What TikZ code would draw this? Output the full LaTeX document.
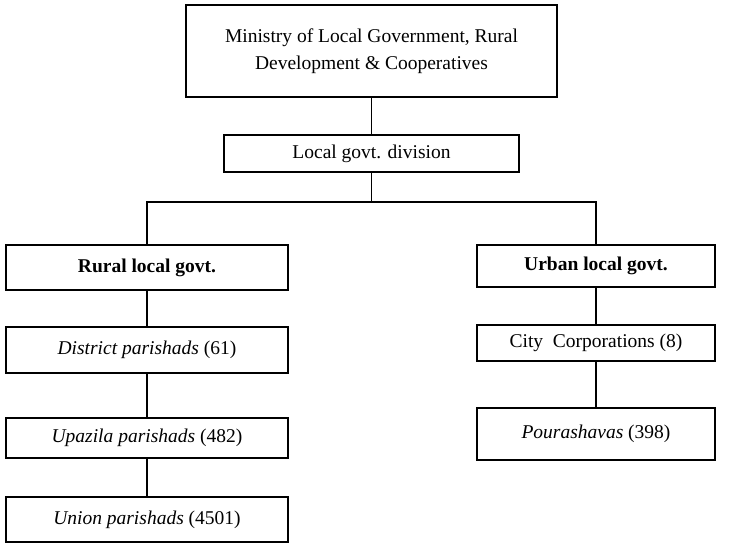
\documentclass[tikz,border=0pt]{standalone}
\usepackage{fontspec}
\setmainfont{Liberation Serif}
\begin{document}
\begin{tikzpicture}[x=1pt, y=-1pt,
        box/.style={draw, line width=1.7pt, inner sep=0pt, align=center,
            font=\fontsize{19.5}{27}\selectfont},
        link/.style={line width=1.1pt}]
        \useasboundingbox (0,0) rectangle (753,543);
        % Ministry and division
        \node[box, minimum width=371, minimum height=92] (ministry) at (371.5,51)
            {Ministry of Local Government, Rural\\Development \& Cooperatives};
        \node[box, minimum width=295, minimum height=37] (division) at (371.5,153.5)
            {Local govt. division};
        \coordinate (split) at (371.5,202);
        
        % Rural side
        \node[box, minimum width=282, minimum height=45] (rural) at (147,267.5)
            {\textbf{Rural local govt.}};
        \node[box, minimum width=282, minimum height=46] (district) at (147,350)
            {\textit{District parishads} (61)};
        \node[box, minimum width=282, minimum height=40] (upazila) at (147,438)
            {\textit{Upazila parishads} (482)};
        \node[box, minimum width=282, minimum height=45] (union) at (147,519.5)
            {\textit{Union parishads} (4501)};
        
        % Urban side
        \node[box, minimum width=238, minimum height=42] (urban) at (596,266)
            {\textbf{Urban local govt.}};
        \node[box, minimum width=238, minimum height=36] (city) at (596,343)
            {City\ \ Corporations (8)};
        \node[box, minimum width=238, minimum height=52] (poura) at (596,434)
            {\textit{Pourashavas} (398)};
        
        % Connectors
        \draw[link] (ministry) -- (division);
        \draw[link] (division) -- (split);
        \draw[link] (rural.north) |- (split) -| (urban.north);
        \draw[link] (rural) -- (district);
        \draw[link] (district) -- (upazila);
        \draw[link] (upazila) -- (union);
        \draw[link] (urban) -- (city);
        \draw[link] (city) -- (poura);
    \end{tikzpicture}
\end{document}
